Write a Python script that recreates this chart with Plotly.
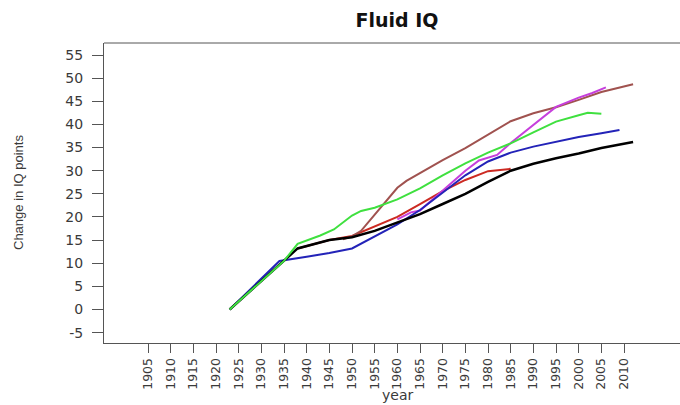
import plotly.graph_objects as go

# Change in fluid IQ points by year, one series per country/sample
black_years = [1923, 1935, 1938, 1945, 1950, 1955, 1960, 1965, 1970, 1975, 1980, 1985, 1990, 1995, 2000, 2005, 2012]
black_vals = [0, 10.5, 13.2, 15.0, 15.6, 17.0, 18.8, 20.6, 22.8, 25.0, 27.6, 30.0, 31.5, 32.7, 33.7, 34.9, 36.2]

green_years = [1923, 1935, 1938, 1943, 1946, 1950, 1952, 1955, 1960, 1965, 1970, 1975, 1980, 1985, 1990, 1995, 2000, 2002, 2005]
green_vals = [0, 10.5, 14.2, 16.0, 17.3, 20.3, 21.3, 22.0, 23.8, 26.2, 29.0, 31.6, 33.9, 35.9, 38.3, 40.6, 42.0, 42.5, 42.3]

blue_years = [1923, 1934, 1940, 1945, 1950, 1955, 1960, 1965, 1970, 1975, 1980, 1985, 1990, 1995, 2000, 2005, 2009]
blue_vals = [0, 10.5, 11.4, 12.2, 13.2, 15.8, 18.4, 21.5, 25.2, 29.0, 32.0, 33.9, 35.2, 36.3, 37.3, 38.1, 38.8]

red_years = [1938, 1945, 1950, 1955, 1960, 1965, 1970, 1975, 1980, 1985]
red_vals = [13.2, 15.0, 15.9, 17.9, 20.0, 22.8, 25.6, 28.0, 29.9, 30.4]

brown_years = [1948, 1950, 1952, 1960, 1962, 1965, 1970, 1975, 1980, 1985, 1990, 1995, 2000, 2005, 2012]
brown_vals = [15.2, 15.8, 17.0, 26.3, 27.8, 29.5, 32.3, 34.9, 37.8, 40.7, 42.4, 43.7, 45.3, 47.0, 48.7]

purple_years = [1960, 1963, 1965, 1970, 1975, 1978, 1980, 1982, 1985, 1990, 1995, 2000, 2003, 2006]
purple_vals = [19.5, 21.0, 21.4, 25.6, 30.0, 32.2, 32.8, 33.4, 36.0, 40.0, 43.8, 45.8, 46.8, 48.0]

year_ticks = list(range(1905, 2011, 5))
iq_ticks = list(range(-5, 56, 5))

series = [
    (red_years, red_vals, "#cc2a22", 2),
    (brown_years, brown_vals, "#a0524f", 2),
    (purple_years, purple_vals, "#c63fdc", 2),
    (blue_years, blue_vals, "#2323b8", 2),
    (black_years, black_vals, "#000000", 2.5),
    (green_years, green_vals, "#3fe03f", 2),
]

fig = go.Figure()
for xs, ys, color, w in series:
    fig.add_trace(go.Scatter(x=xs, y=ys, mode="lines",
                             line=dict(color=color, width=w),
                             showlegend=False, hoverinfo="skip"))

font_main = "DejaVu Sans, Liberation Sans, Arial, sans-serif"
axis_color = "#555555"
text_color = "#3a3a3a"

fig.update_layout(
    width=680, height=405,
    margin=dict(l=104, r=0, t=43, b=62),
    paper_bgcolor="white", plot_bgcolor="white",
    font=dict(family=font_main, size=14, color=text_color),
    title=dict(text="<b>Fluid IQ</b>", x=397 / 680, xref="container",
               y=1 - 20 / 405, yref="container", xanchor="center", yanchor="middle",
               font=dict(family=font_main, size=19, color="#111111")),
    xaxis=dict(range=[1895.29, 2022.35], tickmode="array", tickvals=year_ticks,
               ticktext=[str(y) for y in year_ticks], tickangle=-90,
               ticks="outside", ticklen=9, tickcolor=axis_color, tickwidth=1,
               showline=True, linecolor=axis_color, linewidth=1,
               showgrid=False, zeroline=False, ticklabelstandoff=0,
               tickfont=dict(size=12.5, color=text_color)),
    yaxis=dict(range=[-7.24, 57.6], tickmode="array", tickvals=iq_ticks,
               ticktext=[str(v) for v in iq_ticks],
               ticks="outside", ticklen=11, tickcolor=axis_color, tickwidth=1,
               showline=True, linecolor=axis_color, linewidth=1,
               showgrid=False, zeroline=False, ticklabelstandoff=6,
               tickfont=dict(size=14, color=text_color)),
    shapes=[dict(type="line", xref="paper", yref="paper", x0=0, x1=1, y0=1, y1=1,
                 line=dict(color=axis_color, width=1))],
    annotations=[
        dict(text="Change in IQ points", xref="paper", yref="paper",
             x=(18 - 104) / 576, y=0.5, textangle=-90, showarrow=False,
             xanchor="center", yanchor="middle",
             font=dict(family="Liberation Sans, Arial, sans-serif", size=13, color=text_color)),
        dict(text="year", xref="paper", yref="paper",
             x=(397 - 104) / 576, y=(343 - 395) / 300, showarrow=False,
             xanchor="center", yanchor="middle",
             font=dict(family=font_main, size=14, color=text_color)),
    ],
)

fig.write_html("out.html")
